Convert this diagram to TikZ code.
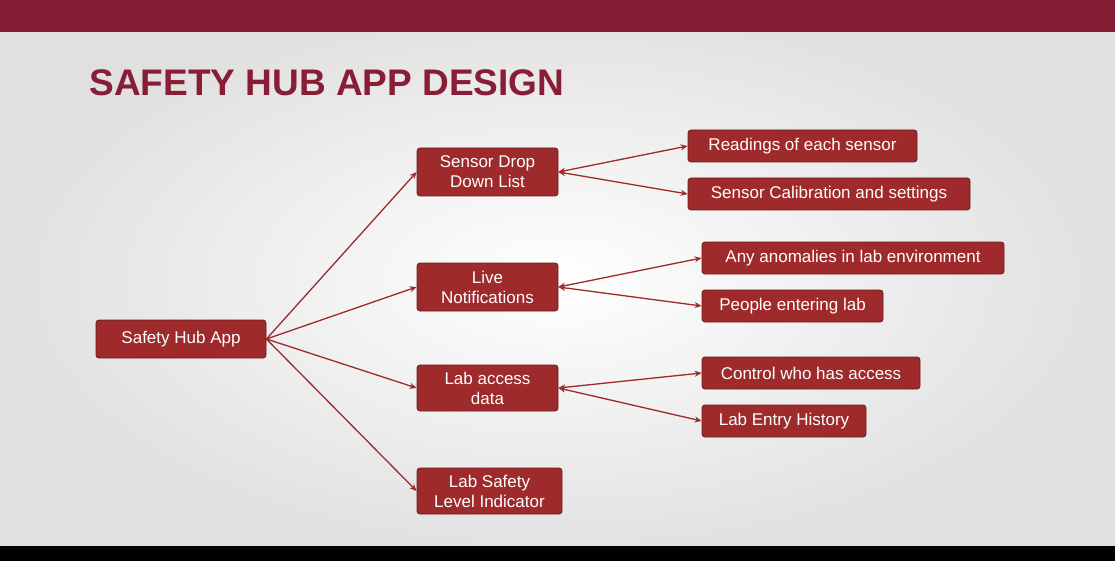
\documentclass[tikz,border=0pt]{standalone}
\usepackage{fontspec}
\setmainfont{Liberation Sans}
\usetikzlibrary{arrows.meta}
\definecolor{bar}{HTML}{841A33}
\definecolor{boxfill}{HTML}{9E2A2B}
\definecolor{boxline}{HTML}{6E1A1C}
\definecolor{titlec}{HTML}{8A1D36}
\begin{document}
\begin{tikzpicture}[x=1pt,y=-1pt,
  box/.style={draw=boxline,fill=boxfill,rounded corners=3pt,text=white,font=\fontsize{17}{20}\selectfont,align=center,inner sep=0pt,line width=0.8pt},
  link/.style={draw=boxfill,line width=1.3pt,-{Stealth[length=7pt,width=6pt]}},
  blink/.style={draw=boxfill,line width=1.3pt,{Stealth[length=7pt,width=6pt]}-{Stealth[length=7pt,width=6pt]}}]
\useasboundingbox (0,0) rectangle (1115,561);
\shade[inner color=white,outer color=black!12] (0,0) rectangle (1115,561);
\fill[bar] (0,0) rectangle (1115,32);
\fill[black] (0,546) rectangle (1115,561);
\node[anchor=west,text=titlec,font=\bfseries\fontsize{37}{40}\selectfont] (title) at (86,83) {SAFETY HUB APP DESIGN};
\node[box,minimum width=170,minimum height=38] (app) at (181,339) {Safety Hub App};
\node[box,minimum width=141,minimum height=48] (s1) at (487.5,172) {Sensor Drop\\Down List};
\node[box,minimum width=141,minimum height=48] (s2) at (487.5,287) {Live\\Notifications};
\node[box,minimum width=141,minimum height=46] (s3) at (487.5,388) {Lab access\\data};
\node[box,minimum width=145,minimum height=46] (s4) at (489.5,491) {Lab Safety\\Level Indicator};
\node[box,minimum width=229,minimum height=32] (l1) at (802.5,146) {Readings of each sensor};
\node[box,minimum width=282,minimum height=32] (l2) at (829,194) {Sensor Calibration and settings};
\node[box,minimum width=302,minimum height=32] (l3) at (853,258) {Any anomalies in lab environment};
\node[box,minimum width=181,minimum height=32] (l4) at (792.5,306) {People entering lab};
\node[box,minimum width=218,minimum height=32] (l5) at (811,373) {Control who has access};
\node[box,minimum width=164,minimum height=32] (l6) at (784,421) {Lab Entry History};
\foreach \t in {s1,s2,s3,s4} \draw[link] (app.east) -- (\t.west);
\draw[blink] (s1.east) -- (l1.west);
\draw[blink] (s1.east) -- (l2.west);
\draw[blink] (s2.east) -- (l3.west);
\draw[blink] (s2.east) -- (l4.west);
\draw[blink] (s3.east) -- (l5.west);
\draw[blink] (s3.east) -- (l6.west);
\end{tikzpicture}
\end{document}
